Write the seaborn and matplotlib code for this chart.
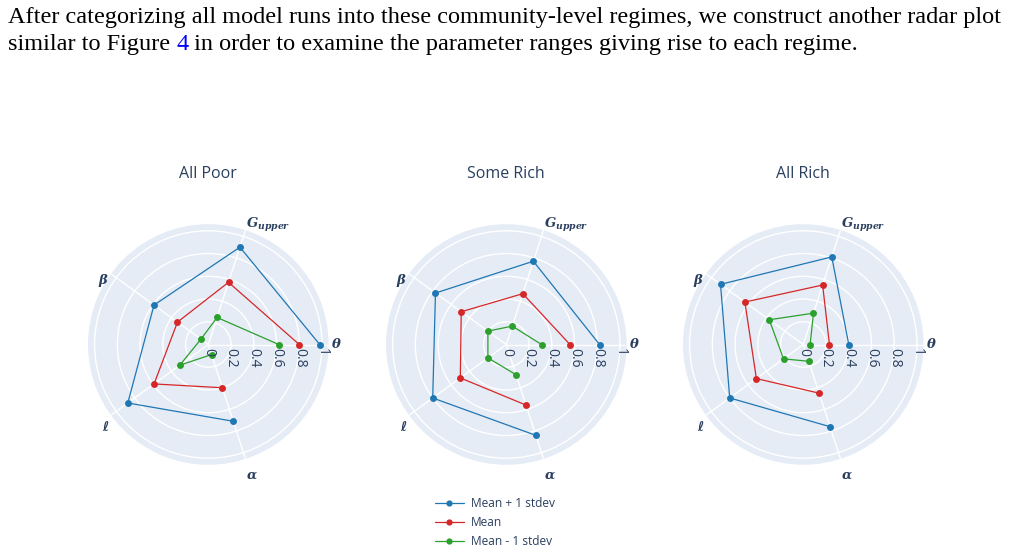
import numpy as np
import pandas as pd
import matplotlib
matplotlib.use("Agg")
import matplotlib.pyplot as plt
import seaborn as sns
from matplotlib.lines import Line2D
from matplotlib.transforms import offset_copy

# ---------------- data ----------------
categories = [r"$\theta$", r"$G_{upper}$", r"$\beta$", "ℓ", r"$\alpha$"]
series_names = ["Mean + 1 stdev", "Mean", "Mean - 1 stdev"]
series_colors = ["#1f77b4", "#d62728", "#2ca02c"]
panel_titles = ["All Poor", "Some Rich", "All Rich"]

all_poor_plus = [0.98, 0.90, 0.59, 0.875, 0.71]
all_poor_mean = [0.80, 0.575, 0.335, 0.59, 0.40]
all_poor_minus = [0.62, 0.25, 0.08, 0.31, 0.093]

some_rich_plus = [0.82, 0.77, 0.77, 0.80, 0.84]
some_rich_mean = [0.56, 0.47, 0.49, 0.50, 0.56]
some_rich_minus = [0.31, 0.17, 0.20, 0.20, 0.28]

all_rich_plus = [0.40, 0.81, 0.90, 0.80, 0.76]
all_rich_mean = [0.23, 0.55, 0.635, 0.51, 0.45]
all_rich_minus = [0.06, 0.29, 0.37, 0.215, 0.155]

radial_ticks = [0, 0.2, 0.4, 0.6, 0.8, 1.0]
radial_tick_labels = ["0", "0.2", "0.4", "0.6", "0.8", "1"]

paragraph_line1 = ("After categorizing all model runs into these community-level regimes, "
                   "we construct another radar plot")
paragraph_line2_a = "similar to Figure "
paragraph_line2_link = "4"
paragraph_line2_b = " in order to examine the parameter ranges giving rise to each regime."

panels = [
    [all_poor_plus, all_poor_mean, all_poor_minus],
    [some_rich_plus, some_rich_mean, some_rich_minus],
    [all_rich_plus, all_rich_mean, all_rich_minus],
]

# ---------------- style ----------------
sns.set_theme(style="white")
plt.rcParams["font.family"] = ["Open Sans", "DejaVu Sans"]
plt.rcParams["mathtext.fontset"] = "custom"
plt.rcParams["mathtext.it"] = "DejaVu Serif:italic:bold"
plt.rcParams["mathtext.rm"] = "DejaVu Serif:bold"
plt.rcParams["mathtext.bf"] = "DejaVu Serif:bold"

TXT = "#2a3f5f"
BG = "#E5ECF6"
W, H = 1011, 552
fig = plt.figure(figsize=(W / 100, H / 100), dpi=100)

centers = [(208.3, 344.5), (506.3, 344.5), (803.3, 344.5)]
R = 120.3
rmax = 1.058

n = len(categories)
angles = np.arange(n) * 2 * np.pi / n

for pi, (cx, cy) in enumerate(centers):
    ax = fig.add_axes([(cx - R) / W, (H - cy - R) / H, 2 * R / W, 2 * R / H],
                      projection="polar")
    ax.set_facecolor(BG)
    ax.spines["polar"].set_visible(False)
    ax.set_ylim(0, rmax)
    ax.set_yticks(radial_ticks)
    ax.set_yticklabels([])
    ax.set_xticks(angles)
    ax.set_xticklabels([])
    ax.grid(True, color="white", linewidth=1.0)
    ax.tick_params(length=0)

    for si, vals in enumerate(panels[pi]):
        df = pd.DataFrame({"angle": list(angles) + [angles[0]],
                           "value": list(vals) + [vals[0]]})
        sns.lineplot(data=df, x="angle", y="value", ax=ax, sort=False,
                     color=series_colors[si], linewidth=0.9, marker="o",
                     markersize=5, markeredgewidth=0,
                     markeredgecolor=series_colors[si], legend=False,
                     zorder=3 + si)
    ax.set_xlabel("")
    ax.set_ylabel("")
    ax.set_ylim(0, rmax)

    # radial tick labels (rotated, below the 0-degree axis)
    tr = offset_copy(ax.transData, fig=fig, y=-2.5, units="points")
    for t, lab in zip(radial_ticks, radial_tick_labels):
        ax.text(0, t, lab, rotation=-90, ha="center", va="top", transform=tr,
                fontsize=10, color=TXT, zorder=10)

    # angular labels
    for a, lab in zip(angles, categories):
        c, s = np.cos(a), np.sin(a)
        ha = "left" if c > 0.2 else ("right" if c < -0.2 else "center")
        if abs(s) < 0.2:
            va = "center"
        elif s > 0.8:
            va = "baseline"
        else:
            va = "top"
        extra = -5.5 * abs(s) if s < 0 else 0.0
        trl = offset_copy(ax.transData, fig=fig, x=1.8 * c, y=1.8 * s + extra,
                          units="points")
        kw = dict(ha=ha, va=va, transform=trl, color=TXT, clip_on=False)
        if lab.startswith("$"):
            ax.text(a, rmax, lab, fontsize=9.5, **kw)
        else:
            ax.text(a, rmax, lab, fontsize=9.5,
                    family=["DejaVu Serif", "DejaVu Sans"],
                    style="italic", weight="bold", **kw)

    fig.text(cx / W, 1 - 173.5 / H, panel_titles[pi], ha="center", va="center",
             fontsize=11.5, color=TXT)

# legend
handles = [Line2D([0], [0], color=c, lw=0.9, marker="o", markersize=4.5,
                  markeredgewidth=0) for c in series_colors]
fig.legend(handles, series_names, loc="upper left",
           bbox_to_anchor=(435 / W, 1 - 497 / H), frameon=False, fontsize=8.6,
           labelcolor=TXT, handlelength=2.4, labelspacing=0.5,
           handletextpad=0.6, borderaxespad=0, borderpad=0)

# paragraph text
serif = ["Liberation Serif", "DejaVu Serif"]
fs = 17.5
fig.text(8 / W, 1 - 23.5 / H, paragraph_line1, family=serif, fontsize=fs,
         color="black", va="baseline", ha="left")
t_a = fig.text(8 / W, 1 - 50 / H, paragraph_line2_a, family=serif, fontsize=fs,
               color="black", va="baseline", ha="left")
renderer = fig.canvas.get_renderer()
bb = t_a.get_window_extent(renderer)
t_l = fig.text(bb.x1 / W, 1 - 50 / H, paragraph_line2_link, family=serif,
               fontsize=fs, color="#0000ff", va="baseline", ha="left")
bb2 = t_l.get_window_extent(renderer)
fig.text(bb2.x1 / W, 1 - 50 / H, paragraph_line2_b, family=serif, fontsize=fs,
         color="black", va="baseline", ha="left")

fig.savefig("out.png", dpi=100, facecolor="white")
